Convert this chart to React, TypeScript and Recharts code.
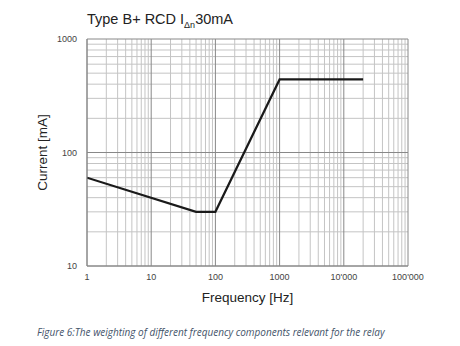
import { LineChart, Line, XAxis, YAxis, ReferenceLine, Label } from 'recharts';

// curve points (frequency Hz, current mA)
const freqs = [1, 50, 100, 1000, 20000];
const currents = [60, 30, 30, 440, 440];

const xTicks = [1, 10, 100, 1000, 10000, 100000];
const xTickLabels = ['1', '10', '100', '1000', "10'000", "100'000"];
const yTicks = [10, 100, 1000];

// minor grid: 2..9 in every decade
const minorSteps = [2, 3, 4, 5, 6, 7, 8, 9];
const xDecades = [1, 10, 100, 1000, 10000];
const yDecades = [10, 100];

const data = freqs.map((f, i) => ({ f, i: currents[i] }));
const xMinor = xDecades.flatMap((d) => minorSteps.map((s) => s * d));
const yMinor = yDecades.flatMap((d) => minorSteps.map((s) => s * d));

const font = '"Liberation Sans", Arial, sans-serif';

export default function App() {
  return (
    <div style={{ position: 'absolute', left: 0, top: 0, width: 460, height: 346, background: '#fff', fontFamily: font }}>
      <div style={{ position: 'absolute', left: 87, top: 11, fontSize: 14.5, color: '#222' }}>
        Type B+ RCD I<sub style={{ fontSize: 9 }}>Δn</sub>30mA
      </div>
      <div style={{ position: 'absolute', left: 0, top: 0 }}>
        <LineChart width={460} height={306} data={data} margin={{ top: 39, right: 52, bottom: 0, left: 0 }}>
          <XAxis
            dataKey="f"
            type="number"
            scale="log"
            domain={[1, 100000]}
            ticks={xTicks}
            tickFormatter={(v: number) => xTickLabels[xTicks.indexOf(v)]}
            axisLine={{ stroke: '#888' }}
            tickLine={false}
            tick={{ fontSize: 9, fill: '#444', fontFamily: font }}
            tickMargin={2}
            height={40}
            allowDataOverflow
          >
            <Label value="Frequency [Hz]" position="insideBottom" offset={4} style={{ fontSize: 13.5, fill: '#222', fontFamily: font }} />
          </XAxis>
          <YAxis
            type="number"
            scale="log"
            domain={[10, 1000]}
            ticks={yTicks}
            axisLine={{ stroke: '#888' }}
            tickLine={false}
            tick={{ fontSize: 9, fill: '#444', fontFamily: font }}
            width={87}
            tickMargin={4}
            allowDataOverflow
          >
            <Label value="Current [mA]" angle={-90} position="center" dx={-1} style={{ fontSize: 13.5, fill: '#222', fontFamily: font }} />
          </YAxis>
          {xMinor.map((v) => (
            <ReferenceLine key={'xm' + v} x={v} stroke="#c4c4c4" strokeWidth={1} />
          ))}
          {yMinor.map((v) => (
            <ReferenceLine key={'ym' + v} y={v} stroke="#c4c4c4" strokeWidth={1} />
          ))}
          {xTicks.map((v) => (
            <ReferenceLine key={'xM' + v} x={v} stroke="#888" strokeWidth={1} />
          ))}
          {yTicks.map((v) => (
            <ReferenceLine key={'yM' + v} y={v} stroke="#888" strokeWidth={1} />
          ))}
          <Line dataKey="i" stroke="#1a1a1a" strokeWidth={2.2} dot={false} isAnimationActive={false} />
        </LineChart>
      </div>
      <div style={{ position: 'absolute', left: 37, top: 325, fontSize: 10, fontStyle: 'italic', color: '#44546a', fontFamily: '"Open Sans", sans-serif' }}>
        Figure 6:The weighting of different frequency components relevant for the relay
      </div>
    </div>
  );
}
